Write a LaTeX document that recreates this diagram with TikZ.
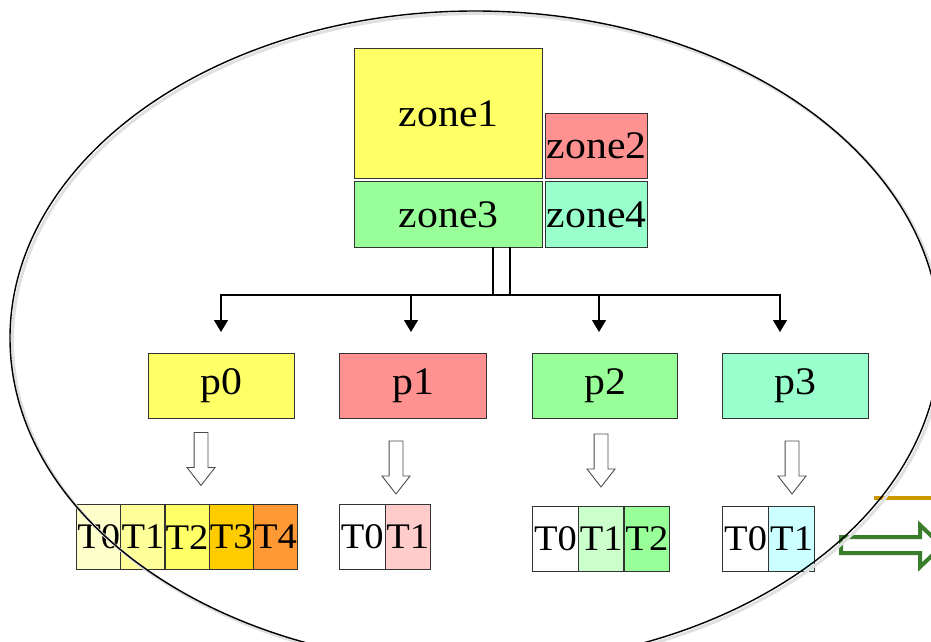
\documentclass[tikz,border=0pt]{standalone}
\usepackage{fontspec}
\setmainfont{Liberation Serif}
\newfontfamily\dfont[FakeStretch=1.07]{Liberation Serif}
\usetikzlibrary{shapes.arrows,arrows.meta,calc}
\definecolor{cyel}{HTML}{FFFF66}
\definecolor{cred}{HTML}{FF9191}
\definecolor{cgrn}{HTML}{99FF99}
\definecolor{ccyn}{HTML}{99FFCC}
\definecolor{tyA}{HTML}{FFFFCC}
\definecolor{tyB}{HTML}{FFFF99}
\definecolor{tyD}{HTML}{FFCC00}
\definecolor{tyE}{HTML}{FF9933}
\definecolor{tred}{HTML}{FFCCCC}
\definecolor{tgrn}{HTML}{CCFFCC}
\definecolor{tcyn}{HTML}{CCFFFF}
\definecolor{corng}{HTML}{CC9900}
\definecolor{cdkgrn}{HTML}{3A7D2C}
\begin{document}
\begin{tikzpicture}[x=1pt,y=-1pt,
  >={Triangle[width=14pt,length=12pt]},
  box/.style={draw=black!80, line width=1.2pt, inner sep=0pt, anchor=north west,
    font=\dfont\fontsize{39}{40}\selectfont},
  cell/.style={box, font=\dfont\fontsize{36}{40}\selectfont, minimum height=65pt},
  harrow/.style={single arrow, draw=black!70, fill=white, line width=0.9pt,
    inner xsep=0pt, inner ysep=6.5pt, minimum width=25pt, minimum height=53pt,
    single arrow tip angle=76, single arrow head indent=0pt, rotate=-90},
  conn/.style={line width=1.2pt, black}]
\clip (0,0) rectangle (931,642);
\fill[white] (0,0) rectangle (931,642);
% zones
\node[box, fill=cyel, minimum width=188pt, minimum height=130pt] (z1) at (354,48) {zone1};
\node[box, fill=cred, minimum width=102pt, minimum height=65pt] (z2) at (545,113) {zone2};
\node[box, fill=cgrn, minimum width=188pt, minimum height=66pt] (z3) at (354,181) {zone3};
\node[box, fill=ccyn, minimum width=102pt, minimum height=66pt] (z4) at (545,181) {zone4};
% p boxes
\node[box, fill=cyel, minimum width=146pt, minimum height=65pt] (p0) at (148,353) {p0};
\node[box, fill=cred, minimum width=147pt, minimum height=65pt] (p1) at (339,353) {p1};
\node[box, fill=cgrn, minimum width=145pt, minimum height=65pt] (p2) at (532,353) {p2};
\node[box, fill=ccyn, minimum width=146pt, minimum height=65pt] (p3) at (722,353) {p3};
% bus
\coordinate (a0) at (221,295);
\coordinate (a1) at (411,295);
\coordinate (a2) at (599,295);
\coordinate (a3) at (780,295);
\coordinate (d0) at (493,247);
\coordinate (d1) at (510,247);
\draw[conn] (d0) -- (d0 |- a0);
\draw[conn] (d1) -- (d1 |- a0);
\draw[conn, <->] ($(a0 |- p0.north)+(0,-21)$) -- (a0) -- (a3) -- ($(a3 |- p3.north)+(0,-21)$);
\draw[conn, ->] (a1) -- ($(a1 |- p1.north)+(0,-21)$);
\draw[conn, ->] (a2) -- ($(a2 |- p2.north)+(0,-21)$);
% hollow arrows
\node[harrow] (h0) at (201,454.5) {};
\node[harrow] (h1) at (396,463) {};
\node[harrow] (h2) at (601,456) {};
\node[harrow] (h3) at (792,463) {};
% task rows
\node[cell, fill=tyA, minimum width=44.2pt] (t00) at (76,504) {T0};
\node[cell, fill=tyB, minimum width=44.2pt] (t01) at (120.2,504) {T1};
\node[cell, fill=cyel, minimum width=44.2pt] (t02) at (164.4,504) {T2};
\node[cell, fill=tyD, minimum width=44.2pt] (t03) at (208.6,504) {T3};
\node[cell, fill=tyE, minimum width=44.2pt] (t04) at (252.8,504) {T4};
\node[cell, fill=white, minimum width=45.5pt] (t10) at (339,504) {T0};
\node[cell, fill=tred, minimum width=45.5pt] (t11) at (384.5,504) {T1};
\node[cell, fill=white, minimum width=45.7pt] (t20) at (532,505.5) {T0};
\node[cell, fill=tgrn, minimum width=45.7pt] (t21) at (577.7,505.5) {T1};
\node[cell, fill=cgrn, minimum width=45.7pt] (t22) at (623.4,505.5) {T2};
\node[cell, fill=white, minimum width=46pt] (t30) at (722,505.5) {T0};
\node[cell, fill=tcyn, minimum width=46pt] (t31) at (768,505.5) {T1};
% right-side fragments
\draw[corng, line width=4pt] (874,498) -- (935,498);
\draw[cdkgrn, line width=4pt, fill=white, line join=miter]
  (841,537) -- (920,537) -- (920,525) -- (942,546) -- (920,567) -- (920,553) -- (841,553) -- cycle;
% ellipse
\draw[black!12, line width=3pt] (477.5,340.5) ellipse [x radius=465pt, y radius=327pt];
\draw[black, line width=1.4pt] (475,338) ellipse [x radius=465pt, y radius=327pt];
\end{tikzpicture}
\end{document}
